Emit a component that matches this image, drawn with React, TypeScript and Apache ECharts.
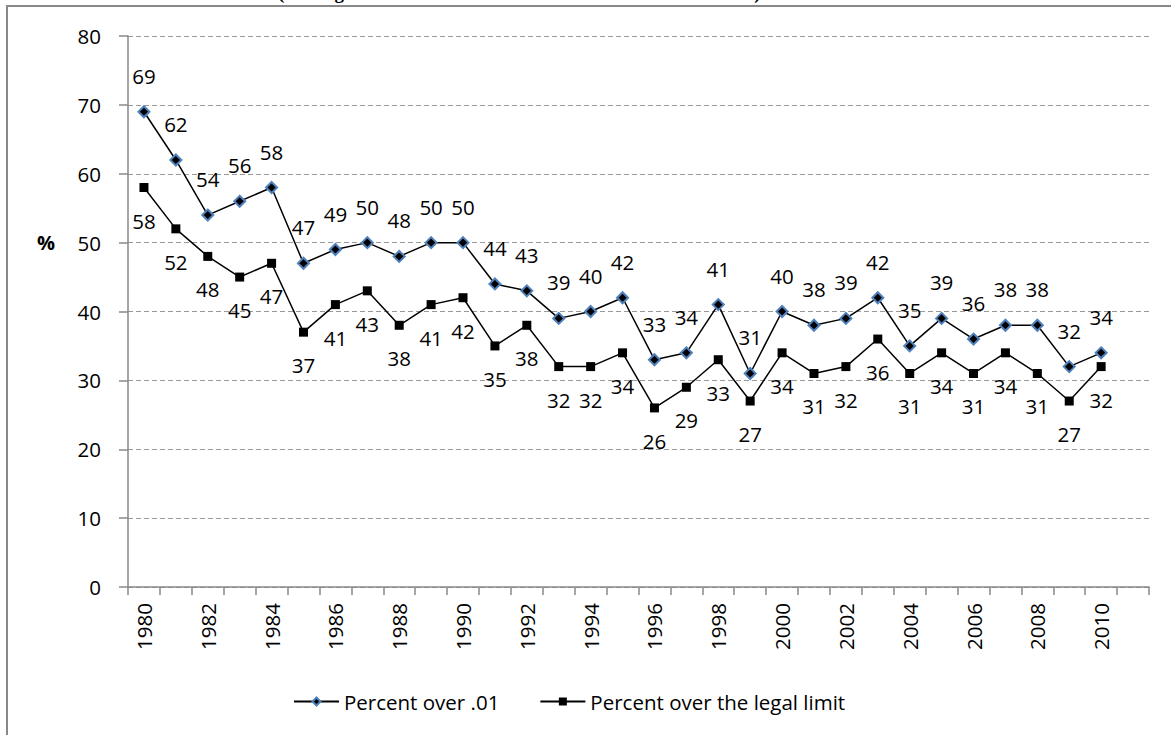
import React, { useEffect, useRef } from "react";
import * as echarts from "echarts";

const years: string[] = [
  "1980", "1981", "1982", "1983", "1984", "1985", "1986", "1987", "1988", "1989",
  "1990", "1991", "1992", "1993", "1994", "1995", "1996", "1997", "1998", "1999",
  "2000", "2001", "2002", "2003", "2004", "2005", "2006", "2007", "2008", "2009",
  "2010", "",
];

const percentOver01: number[] = [
  69, 62, 54, 56, 58, 47, 49, 50, 48, 50,
  50, 44, 43, 39, 40, 42, 33, 34, 41, 31,
  40, 38, 39, 42, 35, 39, 36, 38, 38, 32,
  34,
];

const percentOverLegal: number[] = [
  58, 52, 48, 45, 47, 37, 41, 43, 38, 41,
  42, 35, 38, 32, 32, 34, 26, 29, 33, 27,
  34, 31, 32, 36, 31, 34, 31, 34, 31, 27,
  32,
];

const seriesNames = ["Percent over .01", "Percent over the legal limit"];
const yTicks = { min: 0, max: 80, interval: 10 };
const yAxisName = "%";
const topNote = "(The legal BAC limit for drivers was lowered to .08 in 2003)";

const FONT = "'Open Sans', 'Noto Sans', sans-serif";

export default function App() {
  const ref = useRef<HTMLDivElement>(null);

  useEffect(() => {
    if (!ref.current) return;
    const chart = echarts.init(ref.current, undefined, { renderer: "svg" });
    chart.setOption({
      animation: false,
      backgroundColor: "#ffffff",
      textStyle: { fontFamily: FONT },
      grid: { left: 128, right: 22, top: 36, bottom: 148, containLabel: false },
      legend: {
        left: 288,
        top: 686,
        itemWidth: 45,
        itemHeight: 10,
        itemGap: 40,
        textStyle: { fontSize: 20.5, color: "#000", fontFamily: FONT },
        data: seriesNames,
      },
      xAxis: {
        type: "category",
        data: years,
        boundaryGap: true,
        axisLine: { lineStyle: { color: "#888", width: 1.5 } },
        axisTick: { show: true, interval: 0, length: 8, lineStyle: { color: "#888", width: 1.5 } },
        axisLabel: {
          interval: 1,
          rotate: 90,
          margin: 16,
          fontSize: 20.5,
          color: "#000",
          fontFamily: FONT,
        },
        splitLine: { show: false },
      },
      yAxis: {
        type: "value",
        min: yTicks.min,
        max: yTicks.max,
        interval: yTicks.interval,
        axisLine: { show: true, lineStyle: { color: "#888", width: 1.5 } },
        axisTick: { show: true, length: 9, lineStyle: { color: "#888", width: 1.5 } },
        axisLabel: { margin: 27, fontSize: 20.5, color: "#000", fontFamily: FONT },
        splitLine: { show: true, lineStyle: { color: "#999", type: [5, 3], width: 1 } },
      },
      graphic: [
        {
          type: "rect",
          shape: { x: 7, y: 6, width: 1300, height: 900 },
          style: { fill: "none", stroke: "#888", lineWidth: 2 },
          silent: true,
        },
        {
          type: "text",
          x: 37,
          y: 242,
          style: {
            text: yAxisName,
            font: `bold 20px ${FONT}`,
            fill: "#000",
            verticalAlign: "middle",
            align: "left",
          },
        },
        {
          type: "text",
          x: 278,
          y: 2,
          style: {
            text: topNote,
            font: "bold 19px 'Liberation Serif', serif",
            fill: "#000",
            verticalAlign: "bottom",
            align: "left",
          },
        },
      ],
      series: [
        {
          name: seriesNames[0],
          type: "line",
          data: percentOver01,
          symbol: "diamond",
          symbolSize: 11,
          lineStyle: { color: "#000", width: 1.5 },
          itemStyle: { color: "#000", borderColor: "#4F81BD", borderWidth: 2 },
          label: {
            show: true,
            position: "top",
            distance: 19,
            fontSize: 20.5,
            color: "#000",
            fontFamily: FONT,
          },
          z: 3,
        },
        {
          name: seriesNames[1],
          type: "line",
          data: percentOverLegal,
          symbol: "rect",
          symbolSize: 9,
          lineStyle: { color: "#000", width: 1.5 },
          itemStyle: { color: "#000" },
          label: {
            show: true,
            position: "bottom",
            distance: 18,
            fontSize: 20.5,
            color: "#000",
            fontFamily: FONT,
          },
          z: 2,
        },
      ],
    });
    return () => chart.dispose();
  }, []);

  return (
    <div
      ref={ref}
      style={{ position: "fixed", left: 0, top: 0, width: 1171, height: 735 }}
    />
  );
}
